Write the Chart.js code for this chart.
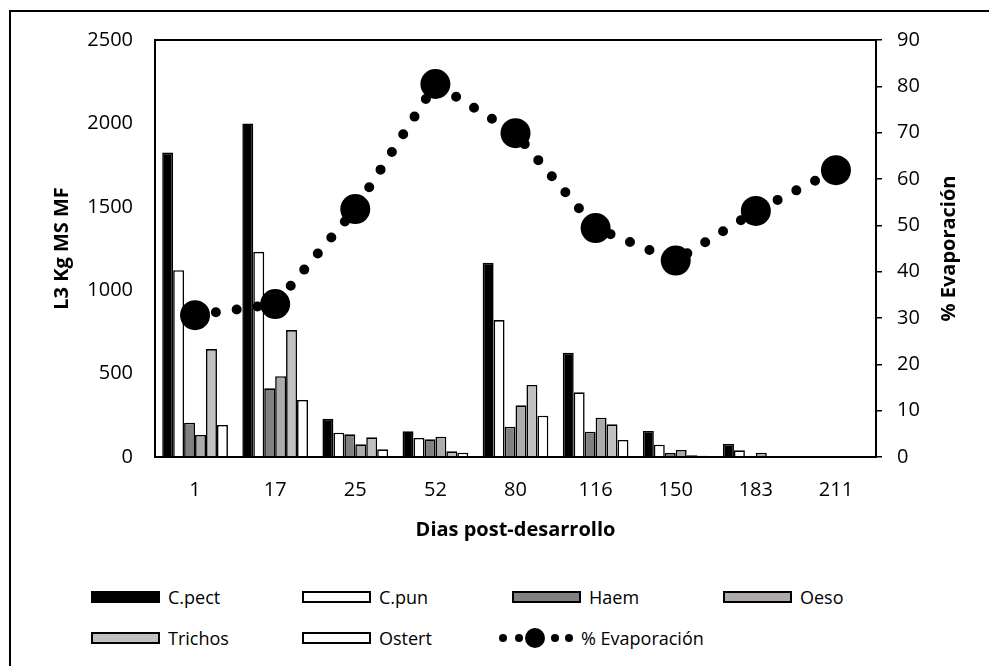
<!DOCTYPE html>
<html>

<head>
  <title>L3 Kg MS MF - % Evaporación</title>
  <script src="https://cdn.jsdelivr.net/npm/chart.js"></script>
  <style>
    body {
      margin: 0;
      background-color: #fff;
      font-family: 'Open Sans', sans-serif;
      color: #000;
      overflow: hidden;
    }

    #frame {
      position: absolute;
      left: 9px;
      top: 10px;
      width: 1200px;
      height: 900px;
      border-left: 2px solid #000;
      border-top: 2px solid #000;
    }

    #chartBox {
      position: absolute;
      left: 0;
      top: 0;
    }

    .item {
      position: absolute;
      display: flex;
      align-items: center;
      height: 24px;
      font-size: 18px;
      white-space: nowrap;
    }

    .box {
      width: 65px;
      height: 8px;
      border: 2px solid #000;
      margin-right: 8px;
    }

    .sym {
      position: relative;
      width: 74px;
      height: 22px;
      margin-right: 8px;
    }

    .dot {
      position: absolute;
      background: #000;
      border-radius: 50%;
    }
  </style>
</head>

<body>
  <div id="frame"></div>
  <div id="chartBox">
    <canvas id="myChart" width="989" height="560"></canvas>
  </div>
  <div id="legend"></div>

  <script>
    const dias = ['1', '17', '25', '52', '80', '116', '150', '183', '211'];

    const cPect = [1825, 2000, 230, 154, 1165, 625, 156, 78, 0];
    const cPun = [1120, 1230, 146, 114, 821, 388, 74, 40, 0];
    const haem = [206, 412, 136, 106, 182, 152, 24, 0, 0];
    const oeso = [132, 484, 76, 122, 310, 236, 42, 26, 0];
    const trichos = [647, 761, 118, 34, 432, 196, 10, 0, 0];
    const ostert = [192, 342, 46, 26, 248, 102, 8, 0, 0];

    const evaporacion = [30.6, 33.0, 53.5, 80.5, 69.9, 49.4, 42.4, 53.1, 61.9];

    const seriesNames = ['C.pect', 'C.pun', 'Haem', 'Oeso', 'Trichos', 'Ostert'];
    const seriesData = [cPect, cPun, haem, oeso, trichos, ostert];
    const seriesColors = ['#000000', '#ffffff', '#808080', '#aeaaaa', '#c0c0c0', '#ffffff'];
    const evapName = '% Evaporación';

    const leftTicks = [0, 500, 1000, 1500, 2000, 2500];
    const rightTicks = [0, 10, 20, 30, 40, 50, 60, 70, 80, 90];

    const tickFont = { family: 'Open Sans', size: 20 };
    const titleFont = { family: 'Open Sans', size: 20, weight: 'bold' };

    const datasets = seriesNames.map((name, i) => ({
      type: 'bar',
      label: name,
      data: seriesData[i],
      backgroundColor: seriesColors[i],
      borderColor: '#000',
      borderWidth: 1.6,
      yAxisID: 'y',
      barPercentage: 1,
      categoryPercentage: 0.82,
      order: 1
    }));

    datasets.push({
      type: 'line',
      label: evapName,
      data: evaporacion,
      yAxisID: 'y1',
      borderColor: '#000',
      borderWidth: 10,
      borderDash: [0, 21],
      borderCapStyle: 'round',
      pointRadius: 15,
      pointBorderWidth: 0,
      pointBackgroundColor: '#000',
      tension: 0,
      order: 0
    });

    // box round the plot area + right axis title drawn bottom-to-top
    const framePlugin = {
      id: 'framePlugin',
      afterDraw(chart) {
        const { ctx, chartArea } = chart;
        ctx.save();
        ctx.strokeStyle = '#000';
        ctx.lineWidth = 2;
        ctx.strokeRect(chartArea.left, chartArea.top, chartArea.right - chartArea.left, chartArea.bottom - chartArea.top);
        const y1 = chart.scales.y1;
        ctx.translate(y1.left + 73, (chartArea.top + chartArea.bottom) / 2);
        ctx.rotate(-Math.PI / 2);
        ctx.font = 'bold 20px "Open Sans"';
        ctx.fillStyle = '#000';
        ctx.textAlign = 'center';
        ctx.textBaseline = 'middle';
        ctx.fillText(evapName, 0, 0);
        ctx.restore();
      }
    };

    const plain = v => String(v);

    const ctx = document.getElementById('myChart').getContext('2d');
    new Chart(ctx, {
      data: {
        labels: dias,
        datasets: datasets
      },
      options: {
        responsive: false,
        animation: false,
        layout: { padding: { top: 40, left: 0, right: 0, bottom: 0 } },
        plugins: {
          legend: { display: false },
          tooltip: { enabled: false }
        },
        scales: {
          x: {
            grid: { display: false, drawTicks: false },
            border: { display: true, color: '#000', width: 2 },
            ticks: { color: '#000', font: tickFont, padding: 21, maxRotation: 0 },
            title: { display: true, text: 'Dias post-desarrollo', color: '#000', font: titleFont, padding: { top: 0, bottom: 18 } },
            afterFit(s) { s.height = 103; }
          },
          y: {
            position: 'left',
            min: 0,
            max: 2500,
            afterBuildTicks(s) { s.ticks = leftTicks.map(v => ({ value: v })); },
            grid: { display: false, drawTicks: false },
            border: { display: false },
            ticks: { color: '#000', font: tickFont, padding: 22, callback: plain },
            title: { display: true, text: 'L3 Kg MS MF', color: '#000', font: titleFont, padding: { top: 50, bottom: 0 } },
            afterFit(s) { s.width = 155; }
          },
          y1: {
            position: 'right',
            min: 0,
            max: 90,
            afterBuildTicks(s) { s.ticks = rightTicks.map(v => ({ value: v })); },
            grid: { drawOnChartArea: false, drawTicks: true, tickLength: 6, color: '#000', lineWidth: 1.5 },
            border: { display: true, color: '#000', width: 2 },
            ticks: { color: '#000', font: tickFont, padding: 15, callback: plain },
            afterFit(s) { s.width = 113; }
          }
        }
      },
      plugins: [framePlugin]
    });

    // legend in a 4 column grid like the original
    const legend = document.getElementById('legend');
    const colX = [91, 302, 512, 723];
    const rowY = [597, 638];

    seriesNames.forEach((name, i) => {
      const item = document.createElement('div');
      item.className = 'item';
      item.style.left = colX[i % 4] + 'px';
      item.style.top = (rowY[Math.floor(i / 4)] - 12) + 'px';
      const box = document.createElement('span');
      box.className = 'box';
      box.style.background = seriesColors[i];
      item.appendChild(box);
      item.appendChild(document.createTextNode(name));
      legend.appendChild(item);
    });

    const evItem = document.createElement('div');
    evItem.className = 'item';
    evItem.style.left = (colX[2] - 13) + 'px';
    evItem.style.top = (rowY[1] - 12) + 'px';
    const sym = document.createElement('span');
    sym.className = 'sym';
    [[4, 8], [20, 8], [36, 20], [56, 8], [70, 8]].forEach(([cx, d]) => {
      const dot = document.createElement('span');
      dot.className = 'dot';
      dot.style.width = d + 'px';
      dot.style.height = d + 'px';
      dot.style.left = (cx - d / 2) + 'px';
      dot.style.top = (11 - d / 2) + 'px';
      sym.appendChild(dot);
    });
    evItem.appendChild(sym);
    evItem.appendChild(document.createTextNode(evapName));
    legend.appendChild(evItem);
  </script>
</body>

</html>
